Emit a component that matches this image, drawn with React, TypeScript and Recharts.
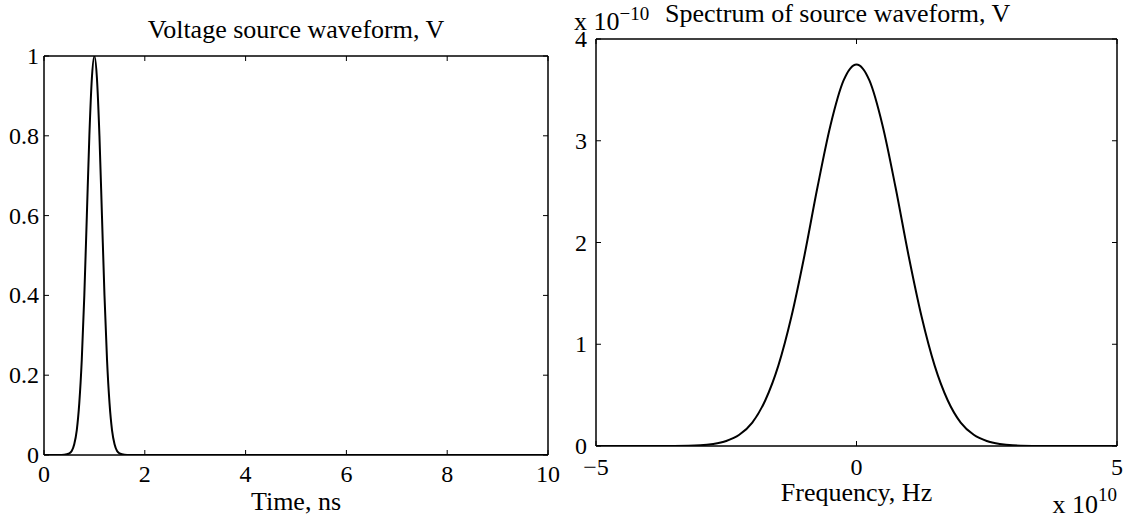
import React from 'react';
import { LineChart, Line, XAxis, YAxis, Label } from 'recharts';

// ---------- data ----------
const timeNs = [0, 0.3, 0.4, 0.5, 0.55, 0.6, 0.65, 0.7, 0.75, 0.8, 0.85, 0.9, 0.95, 1.0, 1.05, 1.1, 1.15, 1.2, 1.25, 1.3, 1.35, 1.4, 1.45, 1.5, 1.6, 1.7, 2, 4, 6, 8, 10];
const voltage = [0, 0, 0.0005, 0.004, 0.01, 0.027, 0.062, 0.13, 0.24, 0.40, 0.60, 0.80, 0.945, 1.0, 0.945, 0.80, 0.60, 0.40, 0.24, 0.13, 0.062, 0.027, 0.01, 0.004, 0.0005, 0, 0, 0, 0, 0, 0];

// frequency in units of 1e10 Hz, spectrum in units of 1e-10
const freqE10 = [-5, -4, -3.5, -3, -2.75, -2.5, -2.25, -2, -1.75, -1.5, -1.25, -1, -0.75, -0.5, -0.25, 0, 0.25, 0.5, 0.75, 1, 1.25, 1.5, 1.75, 2, 2.25, 2.5, 2.75, 3, 3.5, 4, 5];
const spectrumE10 = [0, 0, 0.001, 0.007, 0.02, 0.049, 0.11, 0.23, 0.45, 0.79, 1.27, 1.87, 2.54, 3.15, 3.59, 3.75, 3.59, 3.15, 2.54, 1.87, 1.27, 0.79, 0.45, 0.23, 0.11, 0.049, 0.02, 0.007, 0.001, 0, 0];

const leftXTicks = [0, 2, 4, 6, 8, 10];
const leftYTicks = [0, 0.2, 0.4, 0.6, 0.8, 1];
const rightXTicks = [-5, 0, 5];
const rightYTicks = [0, 1, 2, 3, 4];

const leftTitle = 'Voltage source waveform, V';
const leftXLabel = 'Time, ns';
const rightTitle = 'Spectrum of source waveform, V';
const rightXLabel = 'Frequency, Hz';
const yExponent = '\u221210';
const xExponent = '10';

const leftData = timeNs.map((t, i) => ({ t, v: voltage[i] }));
const rightData = freqE10.map((f, i) => ({ f, s: spectrumE10[i] }));

// ---------- styling ----------
const FONT = '"Liberation Serif", "DejaVu Serif", serif';
const TICK_FS = 24;
const LABEL_FS = 26;
const TICK_LEN = 5;
const AXIS_W = 1.5;

const fmt = (v: number) => (v < 0 ? '\u2212' + Math.abs(v) : String(v));

const makeBottomTick = (off: number) => (props: any) => {
  const { x, y, payload } = props;
  return (
    <g>
      <line x1={x} y1={y} x2={x} y2={y - TICK_LEN} stroke="#000" strokeWidth={1} />
      <text x={x} y={y + off} textAnchor="middle" fontFamily={FONT} fontSize={TICK_FS} fill="#000">
        {fmt(payload.value)}
      </text>
    </g>
  );
};
const TopTick = (props: any) => {
  const { x, y } = props;
  return <line x1={x} y1={y} x2={x} y2={y + TICK_LEN} stroke="#000" strokeWidth={1} />;
};
const makeLeftTick = (gap: number) => (props: any) => {
  const { x, y, payload } = props;
  return (
    <g>
      <line x1={x} y1={y} x2={x + TICK_LEN} y2={y} stroke="#000" strokeWidth={1} />
      <text x={x - gap} y={y + 8} textAnchor="end" fontFamily={FONT} fontSize={TICK_FS} fill="#000">
        {fmt(payload.value)}
      </text>
    </g>
  );
};
const RightTick = (props: any) => {
  const { x, y } = props;
  return <line x1={x} y1={y} x2={x - TICK_LEN} y2={y} stroke="#000" strokeWidth={1} />;
};

const CenterTitle = (text: string, dy: number) => (props: any) => {
  const vb = props.viewBox;
  return (
    <text x={vb.x + vb.width / 2} y={vb.y - dy} textAnchor="middle" fontFamily={FONT} fontSize={LABEL_FS} fill="#000">
      {text}
    </text>
  );
};
const ShiftedTitle = (text: string, dy: number, dx: number) => (props: any) => {
  const vb = props.viewBox;
  return (
    <text x={vb.x + dx} y={vb.y - dy} textAnchor="start" fontFamily={FONT} fontSize={LABEL_FS} fill="#000">
      {text}
    </text>
  );
};
const XLabel = (text: string, dy: number) => (props: any) => {
  const vb = props.viewBox;
  return (
    <text x={vb.x + vb.width / 2} y={vb.y + dy} textAnchor="middle" fontFamily={FONT} fontSize={LABEL_FS} fill="#000">
      {text}
    </text>
  );
};
// exponent label above the y axis (top-left of plot)
const YExpLabel = (props: any) => {
  const vb = props.viewBox;
  return (
    <text x={vb.x - 22} y={vb.y - 8} textAnchor="start" fontFamily={FONT} fontSize={LABEL_FS} fill="#000">
      x 10
      <tspan dy={-10} fontSize={19}>{yExponent}</tspan>
    </text>
  );
};
// exponent label below the x axis (bottom-right of plot)
const XExpLabel = (props: any) => {
  const vb = props.viewBox;
  return (
    <text x={vb.x + vb.width} y={vb.y + 67} textAnchor="end" fontFamily={FONT} fontSize={LABEL_FS} fill="#000">
      x 10
      <tspan dy={-12} fontSize={19}>{xExponent}</tspan>
    </text>
  );
};

const axisCommon = {
  type: 'number' as const,
  tickSize: 0,
  tickMargin: 0,
  tickLine: false,
  axisLine: { stroke: '#000', strokeWidth: AXIS_W },
  interval: 0 as const,
  allowDataOverflow: true,
};

export default function App() {
  return (
    <div style={{ position: 'absolute', left: 0, top: 0, width: 1137, height: 520, background: '#fff' }}>
      {/* Left panel: plot box x 44..548, y 56..455 */}
      <div style={{ position: 'absolute', left: 0, top: 0 }}>
        <LineChart width={570} height={520} data={leftData} margin={{ top: 55, right: 21, bottom: 64, left: 43 }}>
          <XAxis xAxisId="b" dataKey="t" domain={[0, 10]} ticks={leftXTicks} height={1} tick={makeBottomTick(27)} {...axisCommon}>
            <Label content={XLabel(leftXLabel, 55)} />
          </XAxis>
          <XAxis xAxisId="t" orientation="top" dataKey="t" domain={[0, 10]} ticks={leftXTicks} height={1} tick={TopTick} {...axisCommon}>
            <Label content={CenterTitle(leftTitle, 17)} />
          </XAxis>
          <YAxis yAxisId="l" domain={[0, 1]} ticks={leftYTicks} width={1} tick={makeLeftTick(5)} {...axisCommon} />
          <YAxis yAxisId="r" orientation="right" domain={[0, 1]} ticks={leftYTicks} width={1} tick={RightTick} {...axisCommon} />
          <Line xAxisId="b" yAxisId="l" type="monotone" dataKey="v" stroke="#000" strokeWidth={2} dot={false} isAnimationActive={false} />
        </LineChart>
      </div>

      {/* Right panel: plot box x 596..1117, y 39..446 */}
      <div style={{ position: 'absolute', left: 560, top: 0 }}>
        <LineChart width={577} height={520} data={rightData} margin={{ top: 38, right: 19, bottom: 73, left: 35 }}>
          <XAxis xAxisId="b" dataKey="f" domain={[-5, 5]} ticks={rightXTicks} height={1} tick={makeBottomTick(29)} {...axisCommon}>
            <Label content={XLabel(rightXLabel, 55)} />
            <Label content={XExpLabel} />
          </XAxis>
          <XAxis xAxisId="t" orientation="top" dataKey="f" domain={[-5, 5]} ticks={rightXTicks} height={1} tick={TopTick} {...axisCommon}>
            <Label content={ShiftedTitle(rightTitle, 16, 69)} />
            <Label content={YExpLabel} />
          </XAxis>
          <YAxis yAxisId="l" domain={[0, 4]} ticks={rightYTicks} width={1} tick={makeLeftTick(9)} {...axisCommon} />
          <YAxis yAxisId="r" orientation="right" domain={[0, 4]} ticks={rightYTicks} width={1} tick={RightTick} {...axisCommon} />
          <Line xAxisId="b" yAxisId="l" type="monotone" dataKey="s" stroke="#000" strokeWidth={2} dot={false} isAnimationActive={false} />
        </LineChart>
      </div>
    </div>
  );
}
